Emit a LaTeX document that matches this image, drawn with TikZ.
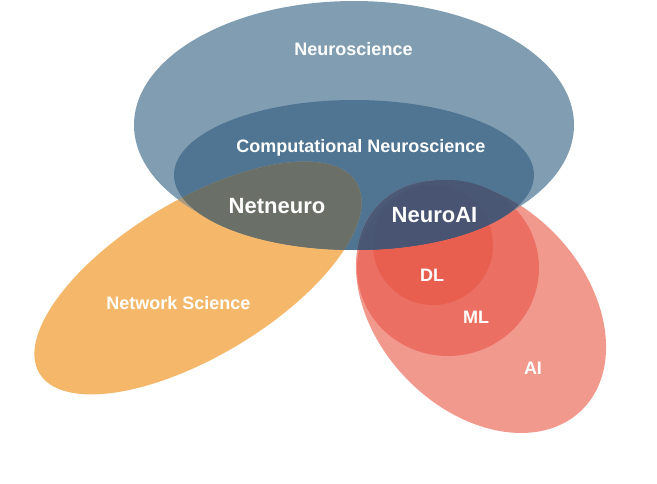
\documentclass[tikz,border=0pt]{standalone}
\usepackage{fontspec}
\setmainfont{Liberation Sans}
\definecolor{neuroC}{HTML}{809DB2}
\definecolor{compC}{HTML}{4F7592}
\definecolor{orangeC}{HTML}{F5B769}
\definecolor{netneuroC}{HTML}{6A6F68}
\definecolor{orangeRingC}{HTML}{A99A80}
\definecolor{aiC}{HTML}{F1998D}
\definecolor{mlC}{HTML}{EB7063}
\definecolor{dlC}{HTML}{E85F50}
\definecolor{aiCompC}{HTML}{4C5A77}
\definecolor{mlCompC}{HTML}{4A5774}
\definecolor{dlCompC}{HTML}{495472}
\definecolor{aiRingC}{HTML}{9C8C98}
\tikzset{
  orangeshape/.style={rotate around={31:(198,278)}},
  aishape/.style={rotate around={-46:(481,306.5)}},
  lbl/.style={text=white, font=\bfseries\fontsize{18}{20}\selectfont, anchor=base, inner sep=0pt},
  biglbl/.style={lbl, font=\bfseries\fontsize{22}{24}\selectfont}
}
\begin{document}
\begin{tikzpicture}[x=1pt,y=-1pt]
\useasboundingbox (0,0) rectangle (657,483);
% base shapes
\fill[orangeC, orangeshape] (198,278) ellipse [x radius=185, y radius=78];
\fill[aiC, aishape] (481,306.5) ellipse [x radius=144.5, y radius=103.7];
\fill[mlC] (448,268) ellipse [x radius=91, y radius=88];
\fill[dlC] (433,245) circle [radius=60];
\fill[neuroC] (354,125) ellipse [x radius=220, y radius=124];
\fill[compC] (354,175) ellipse [x radius=180, y radius=75];
% overlaps with Neuroscience ring
\begin{scope}
  \clip (354,125) ellipse [x radius=220, y radius=124];
  \fill[orangeRingC, orangeshape] (198,278) ellipse [x radius=185, y radius=78];
  \fill[aiRingC, aishape] (481,306.5) ellipse [x radius=144.5, y radius=103.7];
\end{scope}
% overlaps with Computational Neuroscience
\begin{scope}
  \clip (354,175) ellipse [x radius=180, y radius=75];
  \fill[netneuroC, orangeshape] (198,278) ellipse [x radius=185, y radius=78];
  \fill[aiCompC, aishape] (481,306.5) ellipse [x radius=144.5, y radius=103.7];
  \fill[mlCompC] (448,268) ellipse [x radius=91, y radius=88];
  \fill[dlCompC] (433,245) circle [radius=60];
\end{scope}
% labels
\node[lbl] (neuro) at (353.5,55) {Neuroscience};
\node[lbl] (comp) at (361,152) {Computational Neuroscience};
\node[biglbl] (netneuro) at (277,213) {Netneuro};
\node[biglbl] (neuroai) at (434.5,222) {NeuroAI};
\node[lbl] (netsci) at (178.5,309) {Network Science};
\node[lbl] (dl) at (432,281) {DL};
\node[lbl] (ml) at (476,323) {ML};
\node[lbl] (ai) at (533,374) {AI};
\end{tikzpicture}
\end{document}
